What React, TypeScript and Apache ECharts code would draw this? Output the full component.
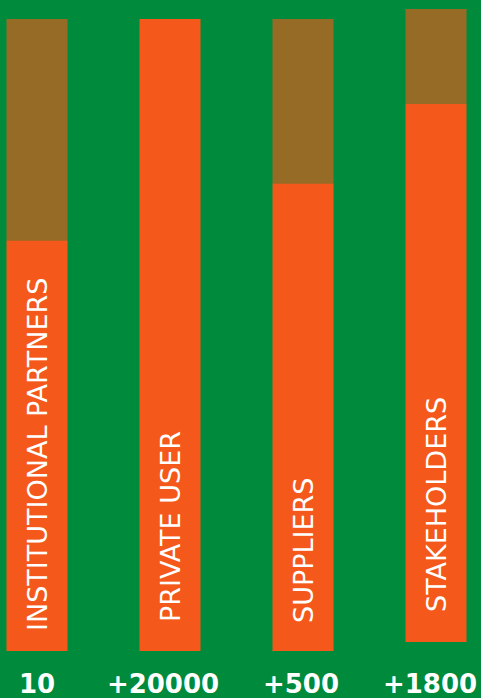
import React, { useEffect, useRef } from "react";
import * as echarts from "echarts";

const counts = ["10", "+20000", "+500", "+1800"];
const groups = ["INSTITUTIONAL PARTNERS", "PRIVATE USER", "SUPPLIERS", "STAKEHOLDERS"];
const reached = [65, 100, 74, 85];
const remaining = [35, 0, 26, 15];
const raisedIndex = 3;

const GREEN = "#008A3B";
const ORANGE = "#F5581B";
const BROWN = "#966B26";

export default function App() {
  const ref = useRef<HTMLDivElement>(null);
  useEffect(() => {
    document.body.style.margin = "0";
    if (!ref.current) return;
    const chart = echarts.init(ref.current, null, { renderer: "svg" });
    const labelDist = [20, 29, 28, 30];
    const labelPad = [
      [0, 0, 0, 0],
      [0, 14, 0, 0],
      [0, 4, 0, 0],
      [0, 12, 0, 0],
    ];
    const pick = (arr: number[], raised: boolean) =>
      arr.map((v, i) => ((i === raisedIndex) === raised ? v : "-"));
    const orangeData = (raised: boolean) =>
      pick(reached, raised).map((v, i) =>
        v === "-"
          ? v
          : {
              value: v,
              label: { distance: labelDist[i] },
            }
      );
    const labelStyle = {
      show: true,
      position: "insideBottom",
      rotate: 90,
      align: "left",
      verticalAlign: "middle",
      color: "#ffffff",
      fontFamily: "DejaVu Sans",
      fontSize: 27,
      fontWeight: "normal",
      formatter: (p: any) => groups[p.dataIndex],
    };
    const xAxisBase = {
      type: "category",
      boundaryGap: false,
      axisLine: { show: false },
      axisTick: { show: false },
      splitLine: { show: false },
    };
    const yAxisBase = {
      type: "value",
      min: 0,
      max: 100,
      show: false,
    };
    chart.setOption({
      animation: false,
      backgroundColor: GREEN,
      grid: [
        { left: 37, right: 45, top: 19, bottom: 47, outerBoundsMode: "none", containLabel: false },
        { left: 37, right: 45, top: 9, bottom: 56, outerBoundsMode: "none", containLabel: false },
      ],
      xAxis: [
        {
          ...xAxisBase,
          gridIndex: 0,
          data: counts.map((c, i) => ({
            value: c,
            textStyle: { padding: labelPad[i] },
          })),
          axisLabel: {
            show: true,
            interval: 0,
            color: "#ffffff",
            fontFamily: "DejaVu Sans",
            fontWeight: "bold",
            fontSize: 26,
            lineHeight: 26,
            margin: 20,
          },
        },
        { ...xAxisBase, gridIndex: 1, data: counts, axisLabel: { show: false } },
      ],
      yAxis: [
        { ...yAxisBase, gridIndex: 0 },
        { ...yAxisBase, gridIndex: 1 },
      ],
      series: [
        {
          type: "bar",
          name: "reached",
          xAxisIndex: 0,
          yAxisIndex: 0,
          stack: "a",
          barWidth: 61,
          clip: false,
          itemStyle: { color: ORANGE },
          label: labelStyle,
          data: orangeData(false),
        },
        {
          type: "bar",
          name: "remaining",
          xAxisIndex: 0,
          yAxisIndex: 0,
          stack: "a",
          barWidth: 61,
          clip: false,
          itemStyle: { color: BROWN },
          data: pick(remaining, false),
        },
        {
          type: "bar",
          name: "reached2",
          xAxisIndex: 1,
          yAxisIndex: 1,
          stack: "b",
          barWidth: 61,
          clip: false,
          itemStyle: { color: ORANGE },
          label: labelStyle,
          data: orangeData(true),
        },
        {
          type: "bar",
          name: "remaining2",
          xAxisIndex: 1,
          yAxisIndex: 1,
          stack: "b",
          barWidth: 61,
          clip: false,
          itemStyle: { color: BROWN },
          data: pick(remaining, true),
        },
      ],
    });
    return () => chart.dispose();
  }, []);
  return <div ref={ref} style={{ width: 481, height: 698 }} />;
}
